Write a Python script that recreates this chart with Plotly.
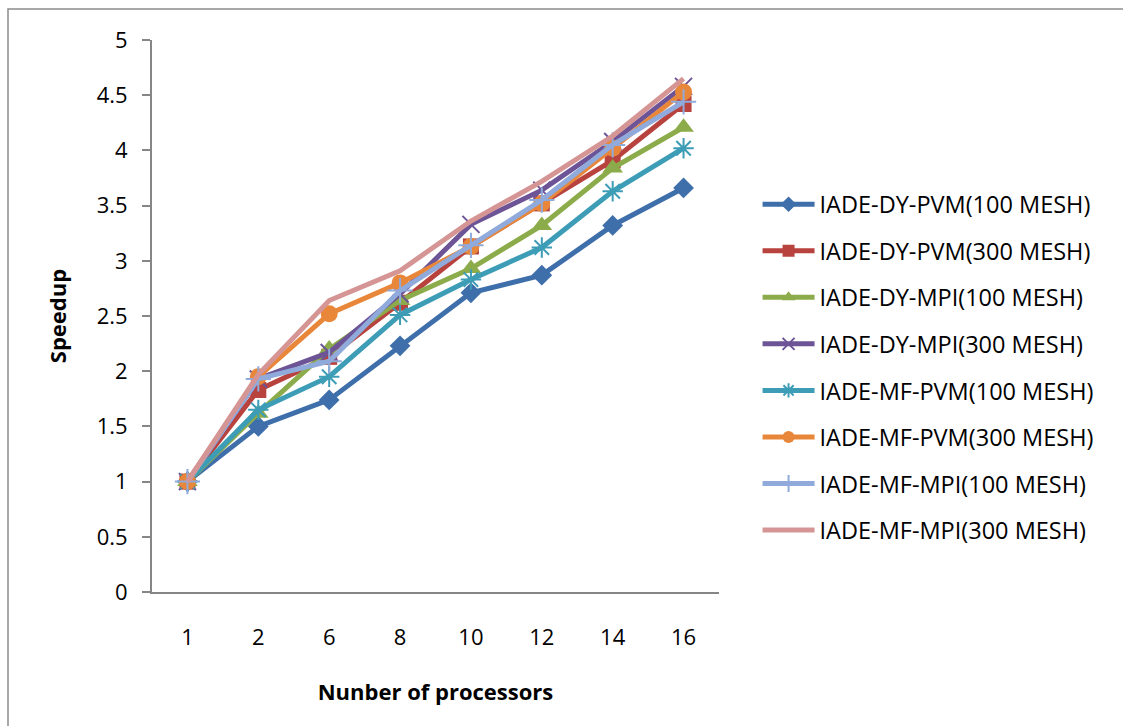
import plotly.graph_objects as go

# Processor counts (categorical x axis)
processors = ["1", "2", "6", "8", "10", "12", "14", "16"]

# Speedup per scheme
dy_pvm_100 = [1.0, 1.50, 1.74, 2.23, 2.71, 2.87, 3.32, 3.66]
dy_pvm_300 = [1.0, 1.83, 2.13, 2.62, 3.13, 3.52, 3.91, 4.42]
dy_mpi_100 = [1.0, 1.62, 2.20, 2.64, 2.93, 3.32, 3.84, 4.21]
dy_mpi_300 = [1.0, 1.93, 2.17, 2.70, 3.33, 3.64, 4.08, 4.58]
mf_pvm_100 = [1.0, 1.65, 1.95, 2.51, 2.83, 3.12, 3.63, 4.02]
mf_pvm_300 = [1.0, 1.95, 2.52, 2.80, 3.13, 3.52, 4.02, 4.53]
mf_mpi_100 = [1.0, 1.93, 2.09, 2.73, 3.14, 3.55, 4.05, 4.44]
mf_mpi_300 = [1.0, 1.97, 2.64, 2.91, 3.36, 3.72, 4.13, 4.65]

series_names = [
    "IADE-DY-PVM(100 MESH)",
    "IADE-DY-PVM(300 MESH)",
    "IADE-DY-MPI(100 MESH)",
    "IADE-DY-MPI(300 MESH)",
    "IADE-MF-PVM(100 MESH)",
    "IADE-MF-PVM(300 MESH)",
    "IADE-MF-MPI(100 MESH)",
    "IADE-MF-MPI(300 MESH)",
]
series_values = [dy_pvm_100, dy_pvm_300, dy_mpi_100, dy_mpi_300,
                 mf_pvm_100, mf_pvm_300, mf_mpi_100, mf_mpi_300]

colors = ["#3F6FAA", "#B8423E", "#8CAB4A", "#6D5496",
          "#3E9DB6", "#E8873A", "#8FAADB", "#D69595"]
symbols = ["diamond", "square", "triangle-up", "x-thin-open",
           "asterisk-open", "circle", "cross-thin-open", None]
sizes = [16, 16, 18, 17, 17, 17, 18, 0]

FONT = "Open Sans, Noto Sans, sans-serif"

fig = go.Figure()
for i, (name, vals) in enumerate(zip(series_names, series_values)):
    sym = symbols[i]
    marker = dict(color=colors[i], size=sizes[i])
    if sym is not None:
        marker["symbol"] = sym
        if sym.endswith("-open"):
            marker["line"] = dict(color=colors[i], width=2)
        mode = "lines+markers"
    else:
        mode = "lines"
    fig.add_trace(go.Scatter(
        x=processors, y=vals, name=name, mode=mode,
        line=dict(color=colors[i], width=5),
        marker=marker,
        legendgroup=f"g{i}",
    ))

axis_grey = "#868686"

fig.update_layout(
    width=1123, height=726,
    margin=dict(l=152, r=404, t=40, b=134, autoexpand=False),
    paper_bgcolor="white", plot_bgcolor="white",
    font=dict(family=FONT, size=22, color="#000000"),
    showlegend=True,
    legend=dict(
        x=1.068, xanchor="left", y=0.742, yanchor="top",
        font=dict(family=FONT, size=23.5, color="#000000"),
        tracegroupgap=13, itemwidth=52, bgcolor="rgba(0,0,0,0)",
        itemsizing="constant",
    ),
    xaxis=dict(
        type="category", range=[-0.5, 7.5],
        showline=True, linecolor=axis_grey, linewidth=2,
        ticks="", showgrid=False, zeroline=False,
        ticklabelstandoff=25,
        tickfont=dict(family=FONT, size=22),
        title=dict(text="<b>Nunber of processors</b>", standoff=34,
                   font=dict(family=FONT, size=22)),
    ),
    yaxis=dict(
        range=[0, 5], dtick=0.5, tick0=0,
        showline=True, linecolor=axis_grey, linewidth=2,
        ticks="outside", ticklen=8, tickwidth=2, tickcolor=axis_grey,
        ticklabelstandoff=10,
        showgrid=False, zeroline=False,
        tickfont=dict(family=FONT, size=22),
        title=dict(text="<b>Speedup</b>", standoff=24,
                   font=dict(family=FONT, size=22)),
    ),
    shapes=[dict(
        type="rect", xref="paper", yref="paper",
        x0=(8 - 152) / 567, x1=(1135 - 152) / 567,
        y0=(592 - 740) / 552, y1=(592 - 9) / 552,
        line=dict(color="#8C8C8C", width=1.5), fillcolor="rgba(0,0,0,0)",
        layer="below",
    )],
)

fig.write_html("out.html")
